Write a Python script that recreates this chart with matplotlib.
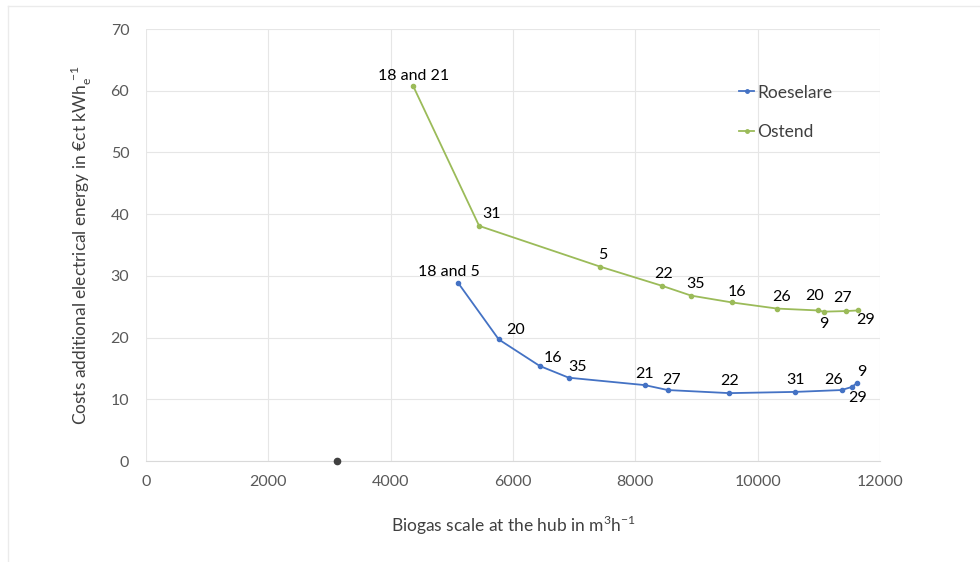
import matplotlib.pyplot as plt
from matplotlib.lines import Line2D

plt.rcParams['font.family'] = ['Lato', 'DejaVu Sans']

# Roeselare hub scenarios
roes_x = [5107, 5767, 6437, 6911, 8154, 8530, 9537, 10617, 11370, 11539, 11631]
roes_y = [28.8, 19.7, 15.4, 13.5, 12.3, 11.5, 11.0, 11.2, 11.5, 12.0, 12.7]
roes_lab = ['18 and 5', '20', '16', '35', '21', '27', '22', '31', '26', '29', '9']

# Ostend hub scenarios
ost_x = [4366, 5446, 7424, 8433, 8913, 9578, 10319, 10984, 11076, 11445, 11636]
ost_y = [60.8, 38.1, 31.5, 28.4, 26.8, 25.7, 24.7, 24.4, 24.2, 24.3, 24.4]
ost_lab = ['18 and 21', '31', '5', '22', '35', '16', '26', '20', '9', '27', '29']

# lone reference point on the axis
ref_x, ref_y = [3118], [0]

# label offsets in pixels (dx, dy)
roes_off = [(-10, 11), (17, 9), (13, 8), (9, 11), (0, 11), (4, 10), (0, 12),
            (0, 12), (-8, 10), (6, -11), (4, 11)]
ost_off = [(0, 10), (12, 12), (3, 12), (2, 12), (4, 12), (5, 10), (4, 12),
           (-3, 14), (0, -12), (-4, 13), (8, -10)]

blue = '#4472C4'
green = '#9BBB59'

fig = plt.figure(figsize=(9.8, 5.62), dpi=100)
ax = fig.add_axes([0.149, 0.1797, 0.749, 0.7686])

ax.plot(roes_x, roes_y, '-o', color=blue, lw=1.3, ms=3, label='Roeselare')
ax.plot(ost_x, ost_y, '-o', color=green, lw=1.3, ms=3, label='Ostend')
ax.plot(ref_x, ref_y, 'o', color='#404040', ms=4.5, clip_on=False, zorder=5)

for xs, ys, labs, offs in [(roes_x, roes_y, roes_lab, roes_off),
                           (ost_x, ost_y, ost_lab, ost_off)]:
    for x, y, t, (dx, dy) in zip(xs, ys, labs, offs):
        ax.annotate(t, (x, y), xytext=(dx, dy), textcoords='offset pixels',
                    ha='center', va='center', fontsize=11.5, color='black')

ax.set_xlim(0, 12000)
ax.set_ylim(0, 70)
ax.set_xticks(range(0, 12001, 2000))
ax.set_yticks(range(0, 71, 10))
ax.grid(True, color='#E6E6E6', lw=0.8)
ax.set_axisbelow(True)
for s in ['top', 'right', 'left']:
    ax.spines[s].set_visible(False)
ax.spines['bottom'].set_color('#D9D9D9')
ax.tick_params(length=0, labelsize=11.5, colors='#595959', pad=10)
ax.tick_params(axis='y', pad=12)

ax.set_xlabel(r'Biogas scale at the hub in m$^\mathregular{3}$h$^\mathregular{-1}$',
              fontsize=12.5, color='#404040', labelpad=18)
ax.set_ylabel(r'Costs additional electrical energy in €ct kWh$_\mathregular{e}^{\ \mathregular{-1}}$',
              fontsize=12.5, color='#404040', labelpad=12)

handles = [Line2D([], [], color=blue, lw=1.3, marker='o', ms=2.5),
           Line2D([], [], color=green, lw=1.3, marker='o', ms=2.5)]
fig.legend(handles, ['Roeselare', 'Ostend'], loc='upper left',
           bbox_to_anchor=(0.745, 0.865), frameon=False, fontsize=12.5,
           handlelength=0.9, handletextpad=0.15, labelspacing=1.35,
           borderpad=0, labelcolor='#404040')

# faint outer frame along top and left
fig.add_artist(Line2D([0.008, 1.0], [0.989, 0.989], color='#EBEBEB', lw=1))
fig.add_artist(Line2D([0.008, 0.008], [0.0, 0.989], color='#EBEBEB', lw=1))

fig.savefig('out.png', dpi=100)
